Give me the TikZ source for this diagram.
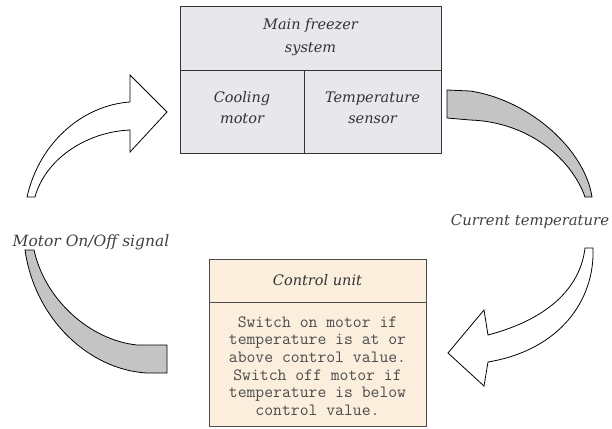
\documentclass[tikz,border=0pt]{standalone}
\usepackage{fontspec}
\setmainfont{DejaVu Serif}
\begin{document}
\begin{tikzpicture}[x=1pt,y=-1pt,
  cell/.style={draw=black!80,line width=1pt,fill=boxgray,inner sep=0pt},
  celltext/.style={inner sep=0pt,align=center,text=black!80,font=\fontsize{14.5}{#1}\selectfont\itshape},
  ctl/.style={draw=black!70,line width=1pt,fill=boxpeach,inner sep=0pt,align=center},
  band/.style={draw=black,line width=0.8pt,fill=bandgray},
  harrow/.style={draw=black,line width=0.8pt,fill=white},
  lbl/.style={font=\fontsize{15.5}{18}\selectfont\itshape,text=black!75,inner sep=0pt}]
\definecolor{boxgray}{HTML}{E8E7EB}
\definecolor{boxpeach}{HTML}{FBEEDD}
\definecolor{bandgray}{HTML}{C4C4C4}
\useasboundingbox (0,0) rectangle (612,428);
% top box
\node[cell,minimum width=261pt,minimum height=63pt] (main) at (310.5,38.5) {};
\node[cell,minimum width=124pt,minimum height=83pt] (cool) at (242,111.5) {};
\node[cell,minimum width=137pt,minimum height=83pt] (sens) at (372.5,111.5) {};
\node[celltext=23] (maint) at (310.5,37.5) {Main freezer\\system};
\node[celltext=21] (coolt) at (242,107.5) {Cooling\\motor};
\node[celltext=21] (senst) at (372.5,107.5) {Temperature\\sensor};
% control unit
\node[ctl,minimum width=217pt,minimum height=43pt,text=black!80,font=\fontsize{14.5}{18}\selectfont\itshape] (ctitle) at (317.5,280.5) {Control unit};
\node[ctl,minimum width=217pt,minimum height=124pt] (cbody) at (317.5,364) {};
\node[inner sep=0pt,align=center,text=black!70,font=\fontsize{17.2}{17.6}\selectfont\ttfamily] (cbodyt) at (317.5,366)
  {Switch on motor if\\temperature is at or\\above control value.\\Switch off motor if\\temperature is below\\control value.};
% labels
\node[lbl,font=\fontsize{14.8}{18}\selectfont\itshape] (ltemp) at (530,222) {Current temperature};
\node[lbl] (lmot) at (91,242) {Motor On/Off signal};
% right gray band
\path[band] (447,90) -- (470,91) .. controls (530,100) and (585,150) .. (592,197)
  -- (585,197) .. controls (572,160) and (530,122) .. (470,120) -- (447,118) -- cycle;
% right white arrow
\path[harrow] (593,248) .. controls (595,300) and (560,350) .. (488,362)
  -- (484,386) -- (448,353) -- (484,310) -- (488,335)
  .. controls (545,320) and (580,290) .. (585,248) -- cycle;
% left gray band
\path[band] (25,250) .. controls (35,320) and (90,370) .. (147,373) -- (167,373) -- (167,345) -- (137,345)
  .. controls (90,340) and (45,300) .. (34,250) -- cycle;
% left white arrow
\path[harrow] (27,197) .. controls (40,140) and (85,105) .. (130,102)
  -- (130,75) -- (167,112) -- (130,152) -- (130,130)
  .. controls (85,132) and (45,160) .. (35,197) -- cycle;
\end{tikzpicture}
\end{document}
